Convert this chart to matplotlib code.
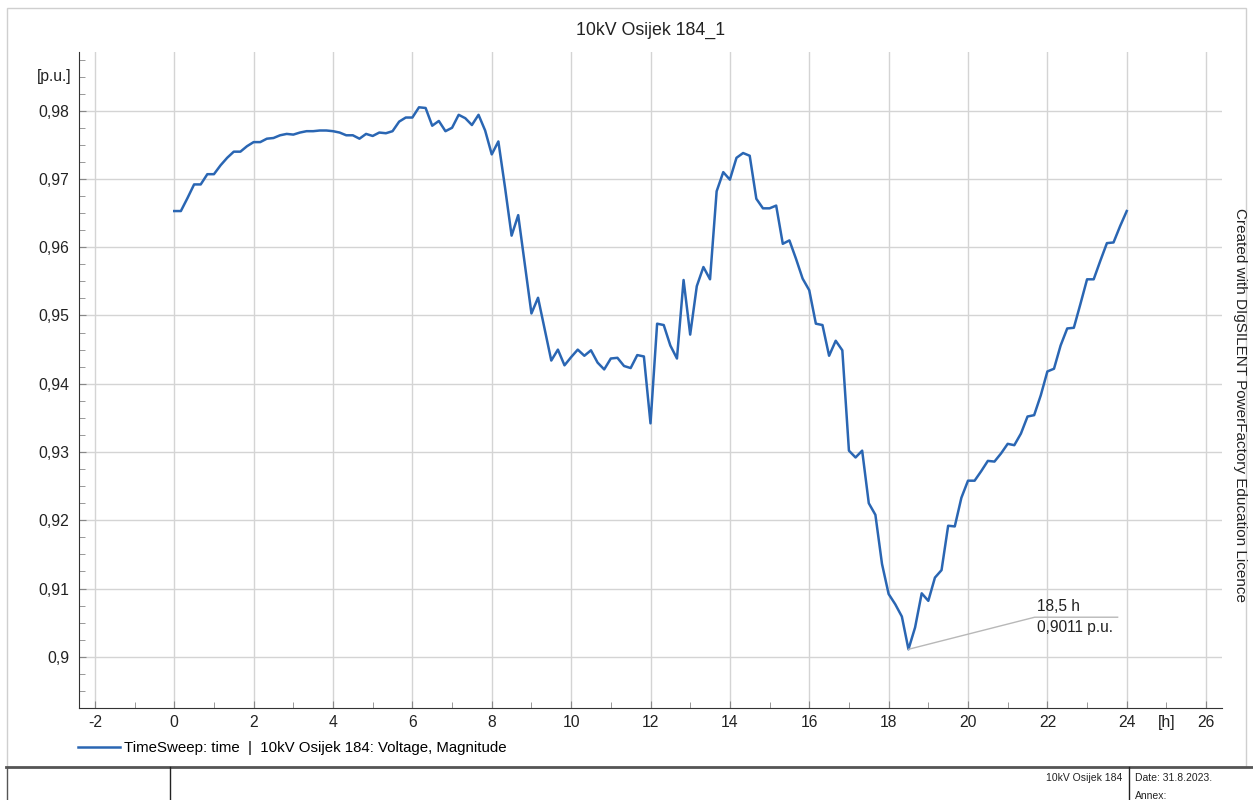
import numpy as np
import matplotlib
matplotlib.use("Agg")
import matplotlib.pyplot as plt
from matplotlib.lines import Line2D
from matplotlib.patches import Rectangle

plt.rcParams['font.family'] = ['Liberation Sans', 'DejaVu Sans']

# voltage magnitude of bus 10kV Osijek 184, sampled every 10 min from 0 h to 24 h
step_h = 1 / 6
voltage = [
    0.9653, 0.9653, 0.9672, 0.9692, 0.9692, 0.9707, 0.9707, 0.9720, 0.9731, 0.9740,
    0.9740, 0.9748, 0.9754, 0.9754, 0.9759, 0.9760, 0.9764, 0.9766, 0.9765, 0.9768,
    0.9770, 0.9770, 0.9771, 0.9771, 0.9770, 0.9768, 0.9764, 0.9764, 0.9759, 0.9766,
    0.9763, 0.9768, 0.9767, 0.9770, 0.9784, 0.9790, 0.9790, 0.9805, 0.9804, 0.9778,
    0.9785, 0.9770, 0.9775, 0.9794, 0.9789, 0.9779, 0.9794, 0.9771, 0.9736, 0.9755,
    0.9688, 0.9617, 0.9647, 0.9575, 0.9503, 0.9526, 0.9480, 0.9434, 0.9450, 0.9427,
    0.9439, 0.9450, 0.9441, 0.9449, 0.9431, 0.9421, 0.9437, 0.9438, 0.9426, 0.9423,
    0.9442, 0.9440, 0.9342, 0.9488, 0.9486, 0.9456, 0.9437, 0.9552, 0.9472, 0.9543,
    0.9571, 0.9553, 0.9682, 0.9710, 0.9699, 0.9731, 0.9738, 0.9734, 0.9671, 0.9657,
    0.9657, 0.9661, 0.9605, 0.9610, 0.9583, 0.9554, 0.9537, 0.9488, 0.9486, 0.9441,
    0.9463, 0.9449, 0.9302, 0.9292, 0.9302, 0.9225, 0.9208, 0.9136, 0.9092, 0.9077,
    0.9059, 0.9011, 0.9043, 0.9093, 0.9082, 0.9116, 0.9127, 0.9192, 0.9191, 0.9233,
    0.9258, 0.9258, 0.9272, 0.9287, 0.9286, 0.9298, 0.9312, 0.9310, 0.9327, 0.9352,
    0.9354, 0.9383, 0.9418, 0.9422, 0.9456, 0.9481, 0.9482, 0.9517, 0.9553, 0.9553,
    0.9580, 0.9606, 0.9607, 0.9631, 0.9653,
]
hours = np.arange(len(voltage)) * step_h

x_ticks = [-2, 0, 2, 4, 6, 8, 10, 12, 14, 16, 18, 20, 22, 24, 26]
y_ticks = [0.90, 0.91, 0.92, 0.93, 0.94, 0.95, 0.96, 0.97, 0.98]
y_tick_labels = ["0,9", "0,91", "0,92", "0,93", "0,94", "0,95", "0,96", "0,97", "0,98"]

marker_h = 18.5
marker_v = 0.9011

W, H = 1253, 800
fig = plt.figure(figsize=(W / 100, H / 100), dpi=100)

# outer frame
fig.patches.append(Rectangle((7 / W, 1 - 767 / H), 1239 / W, 759 / H, transform=fig.transFigure,
                             fill=False, edgecolor='#cfcfcf', linewidth=1))

ax = fig.add_axes([79 / W, 1 - 708 / H, (1222 - 79) / W, (708 - 52) / H])
line, = ax.plot(hours, voltage, color='#2a66b3', linewidth=1.8)

ax.set_xlim(-2.4, 26.4)
ax.set_ylim(0.893, 0.9886)
ax.set_xticks(x_ticks)
ax.set_xticklabels([str(t) for t in x_ticks])
ax.set_xticks(np.arange(-2, 27, 1), minor=True)
ax.set_yticks(y_ticks)
ax.set_yticklabels(y_tick_labels)
ax.set_yticks(np.arange(0.8925, 0.9886, 0.0025), minor=True)
ax.grid(True, which='major', color='#d4d4d4', linewidth=1)
ax.tick_params(which='both', direction='in', color='#888888', labelsize=11.3, labelcolor='#222222')
ax.tick_params(which='major', length=5)
ax.tick_params(axis='y', which='major', pad=7)
ax.tick_params(axis='x', which='major', pad=5)
ax.tick_params(which='minor', length=4)
for s in ['top', 'right']:
    ax.spines[s].set_visible(False)
for s in ['left', 'bottom']:
    ax.spines[s].set_color('#333333')

# unit labels in place of a tick
ax.text(-2.6, 0.985, "[p.u.]", ha='right', va='center', fontsize=11.3, color='#222222')
ax.text(25, 0.893 - 0.0015, "[h]", ha='center', va='top', fontsize=11.3, color='#222222')

# value marker
ax.plot([marker_h, 21.68, 23.77], [marker_v, 0.9058, 0.9058], color='#b8b8b8', linewidth=1)
ax.text(21.75, 0.9062, "18,5 h", ha='left', va='bottom', fontsize=11.2, color='#222222')
ax.text(21.75, 0.9054, "0,9011 p.u.", ha='left', va='top', fontsize=11.2, color='#222222')

fig.text(651 / W, 1 - 30 / H, "10kV Osijek 184_1", ha='center', va='center', fontsize=12.8, color='#222222')
fig.text(1240 / W, 1 - 405 / H, "Created with DIgSILENT PowerFactory Education Licence",
         rotation=-90, ha='center', va='center', fontsize=11, color='#222222')

fig.legend(handles=[line], labels=["TimeSweep: time  |  10kV Osijek 184: Voltage, Magnitude"],
           loc='center left', bbox_to_anchor=(64 / W, 1 - 748 / H), frameon=False,
           handlelength=2.8, fontsize=10.8, handletextpad=0.3)

# title block at the bottom
fig.add_artist(Line2D([6 / W, 1], [1 - 767 / H] * 2, color='#555555', linewidth=2))
fig.add_artist(Line2D([7 / W] * 2, [0, 1 - 767 / H], color='#555555', linewidth=1))
fig.add_artist(Line2D([170 / W] * 2, [0, 1 - 767 / H], color='#222222', linewidth=1))
fig.add_artist(Line2D([1129 / W] * 2, [0, 1 - 767 / H], color='#222222', linewidth=1))
fig.text(1122 / W, 1 - 778 / H, "10kV Osijek 184", ha='right', va='center', fontsize=7.5, color='#222222')
fig.text(1135 / W, 1 - 778 / H, "Date: 31.8.2023.", ha='left', va='center', fontsize=7.5, color='#222222')
fig.text(1135 / W, 1 - 796 / H, "Annex:", ha='left', va='center', fontsize=7.5, color='#222222')

fig.savefig("out.png", dpi=100)
